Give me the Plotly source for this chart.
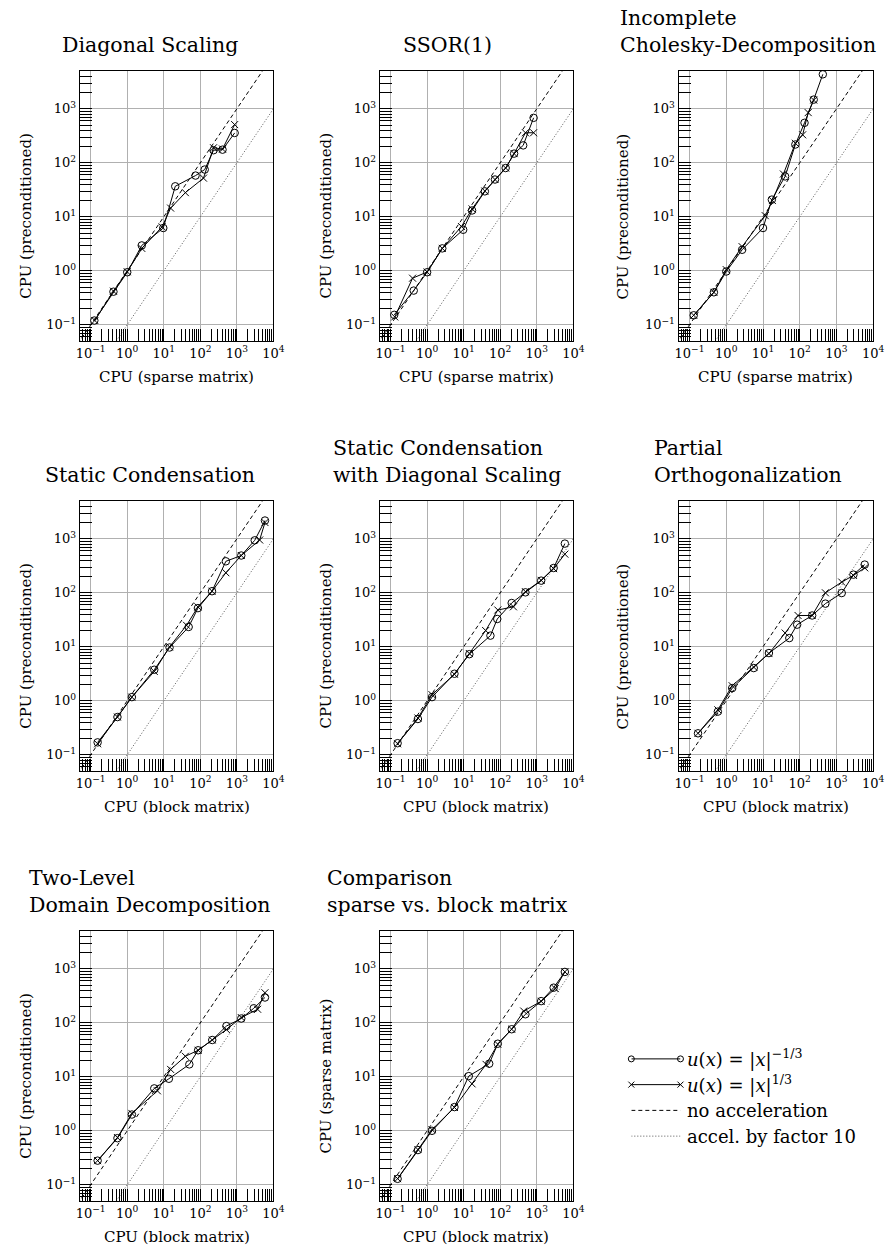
import plotly.graph_objects as go

W, H = 896, 1250
FONT = "DejaVu Serif"

# ---------------- data ----------------
titles = ["Diagonal Scaling", "SSOR(1)", "Incomplete<br>Cholesky-Decomposition",
          "Static Condensation", "Static Condensation<br>with Diagonal Scaling",
          "Partial<br>Orthogonalization", "Two-Level<br>Domain Decomposition",
          "Comparison<br>sparse vs. block matrix"]
xlabels = ["CPU (sparse matrix)"] * 3 + ["CPU (block matrix)"] * 5
ylabels = ["CPU (preconditioned)"] * 7 + ["CPU (sparse matrix)"]

# 1 Diagonal Scaling
ds_c_x = [0.126, 0.42, 1.0, 2.5, 9.7, 20.6, 74, 132, 230, 405, 870]
ds_c_y = [0.12, 0.41, 0.94, 2.95, 6.2, 36.7, 58, 75, 171, 175, 357]
ds_x_x = [0.13, 0.42, 1.0, 2.5, 9.0, 15.4, 39, 122, 230, 405, 870]
ds_x_y = [0.12, 0.42, 0.96, 2.6, 6.5, 14.5, 28, 52, 190, 180, 510]
# 2 SSOR(1)
ss_c_x = [0.126, 0.43, 1.0, 2.6, 9.7, 17, 38, 72, 141, 240, 425, 820]
ss_c_y = [0.153, 0.43, 0.94, 2.6, 5.75, 13.1, 29.6, 49, 80, 148, 210, 680]
ss_x_x = [0.13, 0.40, 1.0, 2.6, 8.7, 17, 38, 72, 141, 240, 490, 820]
ss_x_y = [0.14, 0.73, 0.95, 2.6, 6.6, 14, 30, 49, 80, 148, 360, 360]
# 3 Incomplete Cholesky
ic_c_x = [0.13, 0.46, 1.0, 2.7, 10, 17.4, 40, 76, 135, 240, 425]
ic_c_y = [0.15, 0.40, 0.97, 2.45, 6.2, 20.8, 56, 218, 550, 1480, 4350]
ic_x_x = [0.13, 0.46, 1.0, 2.7, 11.5, 18, 36, 76, 120, 170, 240]
ic_x_y = [0.15, 0.40, 1.05, 2.8, 10.5, 20, 62, 230, 330, 850, 1450]
# 4 Static Condensation
sc_c_x = [0.155, 0.54, 1.34, 5.5, 14.4, 48, 86, 209, 500, 1320, 3080, 5870]
sc_c_y = [0.17, 0.50, 1.17, 3.76, 9.7, 23.3, 52, 107, 383, 490, 937, 2180]
sc_x_x = [0.155, 0.54, 1.34, 5.5, 14.4, 42, 86, 209, 500, 1320, 4200, 5870]
sc_x_y = [0.16, 0.50, 1.17, 3.5, 10, 25, 55, 107, 235, 490, 950, 2000]
# 5 Static Condensation with Diagonal Scaling
sd_c_x = [0.156, 0.56, 1.36, 5.6, 14.3, 54, 83, 206, 490, 1320, 2900, 5870]
sd_c_y = [0.164, 0.46, 1.17, 3.17, 7.3, 16.1, 32.7, 64.7, 102, 168, 288, 815]
sd_x_x = [0.156, 0.56, 1.36, 5.6, 14.3, 40, 86, 230, 490, 1320, 2900, 5870]
sd_x_y = [0.16, 0.48, 1.3, 3.1, 7.5, 20, 48, 55, 105, 170, 280, 520]
# 6 Partial Orthogonalization
po_c_x = [0.17, 0.59, 1.45, 5.6, 14.5, 52, 85, 218, 500, 1390, 2900, 5870]
po_c_y = [0.25, 0.63, 1.72, 4.04, 7.66, 14.5, 25.7, 38, 63, 99, 217, 333]
po_x_x = [0.17, 0.59, 1.45, 5.6, 14.5, 40, 90, 218, 500, 1390, 2900, 5870]
po_x_y = [0.25, 0.68, 1.9, 4.2, 7.5, 18, 38, 38, 100, 158, 210, 290]
# 7 Two-Level Domain Decomposition
dd_c_x = [0.155, 0.54, 1.34, 5.5, 13.8, 50, 87, 212, 517, 1320, 2900, 5870]
dd_c_y = [0.28, 0.73, 2.0, 6.1, 9.2, 17, 31, 48, 87, 120, 186, 294]
dd_x_x = [0.155, 0.54, 1.34, 6.7, 15.4, 39, 87, 212, 517, 1320, 3700, 5870]
dd_x_y = [0.28, 0.75, 2.1, 5.5, 13.7, 24, 31, 48, 75, 125, 178, 360]
# 8 Comparison sparse vs. block
cp_c_x = [0.156, 0.56, 1.36, 5.6, 13.8, 50, 86, 206, 490, 1320, 2900, 5870]
cp_c_y = [0.129, 0.44, 1.0, 2.75, 10.3, 17.5, 41, 76, 144, 252, 447, 875]
cp_x_x = [0.156, 0.56, 1.36, 5.6, 17, 41, 86, 206, 440, 1320, 3200, 5870]
cp_x_y = [0.13, 0.45, 1.05, 2.7, 7.4, 17, 40, 76, 165, 250, 430, 880]

# reference lines: no acceleration (y = x) and acceleration by factor 10
ref_x = [0.01, 100000]
ref_none = [0.01, 100000]
ref_ten = [0.001, 10000]

major_vals = [0.1, 1, 10, 100, 1000, 10000]
major_text = ["10<sup>\u22121</sup>", "10<sup>0</sup>", "10<sup>1</sup>",
              "10<sup>2</sup>", "10<sup>3</sup>", "10<sup>4</sup>"]
minor_vals = [k * 10.0 ** n for n in range(-2, 5) for k in range(2, 10)]

legend_labels = ["<i>u</i>(<i>x</i>) = |<i>x</i>|<sup>\u22121/3</sup>",
                 "<i>u</i>(<i>x</i>) = |<i>x</i>|<sup>1/3</sup>",
                 "no acceleration", "accel. by factor 10"]
legend_rows = [0, 1, 2, 3]
legend_sx = [0, 1]

series = [(ds_c_x, ds_c_y, ds_x_x, ds_x_y), (ss_c_x, ss_c_y, ss_x_x, ss_x_y),
          (ic_c_x, ic_c_y, ic_x_x, ic_x_y), (sc_c_x, sc_c_y, sc_x_x, sc_x_y),
          (sd_c_x, sd_c_y, sd_x_x, sd_x_y), (po_c_x, po_c_y, po_x_x, po_x_y),
          (dd_c_x, dd_c_y, dd_x_x, dd_x_y), (cp_c_x, cp_c_y, cp_x_x, cp_x_y)]

# ---------------- layout geometry (pixels) ----------------
col_px = [(77, 274), (382, 579), (686, 884)]
row_px = [(71, 341), (501, 771), (931, 1201)]
title_cx = [148, 451, 757]
ytitle_x = [22, 327, 630]

DASH = "4px,3px"
DOT = "1px,2px"
DOT_COLOR = "#555555"


def px_x(v):
    return v / W


def px_y(v):
    return 1 - v / H


fig = go.Figure()
annotations = []
layout = dict(width=W, height=H, margin=dict(l=0, r=0, t=0, b=0),
              paper_bgcolor="white", plot_bgcolor="white", showlegend=False,
              font=dict(family=FONT, color="black"))

line_style = dict(color="black", width=1)

for i in range(8):
    r, c = divmod(i, 3)
    n = i + 1
    xs = "x" if n == 1 else f"x{n}"
    ys = "y" if n == 1 else f"y{n}"
    xa = "xaxis" if n == 1 else f"xaxis{n}"
    ya = "yaxis" if n == 1 else f"yaxis{n}"
    cx, cy, xx, xy = series[i]

    fig.add_trace(go.Scatter(x=ref_x, y=ref_none, mode="lines", xaxis=xs, yaxis=ys,
                             line=dict(color="black", width=1, dash=DASH)))
    fig.add_trace(go.Scatter(x=ref_x, y=ref_ten, mode="lines", xaxis=xs, yaxis=ys,
                             line=dict(color=DOT_COLOR, width=1, dash=DOT)))
    fig.add_trace(go.Scatter(x=xx, y=xy, mode="lines+markers", xaxis=xs, yaxis=ys,
                             line=line_style,
                             marker=dict(symbol="x-thin-open", size=7,
                                         line=dict(color="black", width=1))))
    fig.add_trace(go.Scatter(x=cx, y=cy, mode="lines+markers", xaxis=xs, yaxis=ys,
                             line=line_style,
                             marker=dict(symbol="circle-open", size=7.5, color="black",
                                         line=dict(color="black", width=1))))

    common = dict(type="log", showline=True, mirror=True, linecolor="black", linewidth=1,
                  ticks="inside", ticklen=12, tickcolor="black", tickwidth=1,
                  tickmode="array", tickvals=major_vals, ticktext=major_text,
                  showgrid=True, gridcolor="#b0b0b0", gridwidth=1.3, zeroline=False,
                  tickfont=dict(family=FONT, size=13, color="black"),
                  minor=dict(tickmode="array", tickvals=minor_vals, ticks="inside",
                             ticklen=12, tickcolor="black", tickwidth=1, showgrid=False))
    x0, x1 = col_px[c]
    y0, y1 = row_px[r]
    layout[xa] = dict(common, domain=[px_x(x0), px_x(x1)], range=[-1.3, 4], anchor=ys)
    layout[ya] = dict(common, domain=[px_y(y1), px_y(y0)], range=[-1.3, 3.7], anchor=xs)

    # panel title
    annotations.append(dict(text=titles[i], xref="paper", yref="paper",
                            x=px_x(title_cx[c]), y=px_y(y0 - 12), xanchor="center",
                            yanchor="bottom", align="left", showarrow=False,
                            font=dict(family=FONT, size=20.5, color="black")))
    # axis titles
    annotations.append(dict(text=xlabels[i], xref="paper", yref="paper",
                            x=px_x((x0 + x1) / 2), y=px_y(y1 + 36), xanchor="center",
                            yanchor="middle", showarrow=False,
                            font=dict(family=FONT, size=15, color="black")))
    annotations.append(dict(text=ylabels[i], xref="paper", yref="paper",
                            x=px_x(ytitle_x[c]), y=px_y((y0 + y1) / 2 + 10), xanchor="center",
                            yanchor="middle", textangle=-90, showarrow=False,
                            font=dict(family=FONT, size=15, color="black")))

# ---------------- legend (drawn in its own small axes) ----------------
fig.add_trace(go.Scatter(x=legend_sx, y=[legend_rows[0]] * 2, mode="lines+markers",
                         xaxis="x9", yaxis="y9", cliponaxis=False, line=line_style,
                         marker=dict(symbol="circle-open", size=6, color="black",
                                     line=dict(color="black", width=1))))
fig.add_trace(go.Scatter(x=legend_sx, y=[legend_rows[1]] * 2, mode="lines+markers",
                         xaxis="x9", yaxis="y9", cliponaxis=False, line=line_style,
                         marker=dict(symbol="x-thin-open", size=6,
                                     line=dict(color="black", width=1))))
fig.add_trace(go.Scatter(x=legend_sx, y=[legend_rows[2]] * 2, mode="lines",
                         xaxis="x9", yaxis="y9", cliponaxis=False,
                         line=dict(color="black", width=1, dash=DASH)))
fig.add_trace(go.Scatter(x=legend_sx, y=[legend_rows[3]] * 2, mode="lines",
                         xaxis="x9", yaxis="y9", cliponaxis=False,
                         line=dict(color=DOT_COLOR, width=1, dash=DOT)))
layout["xaxis9"] = dict(domain=[px_x(638), px_x(688)], range=[0, 1], visible=False,
                        anchor="y9")
layout["yaxis9"] = dict(domain=[px_y(1149), px_y(1046)], range=[3.5, -0.5], visible=False,
                        anchor="x9")
for lab, row in zip(legend_labels, legend_rows):
    annotations.append(dict(text=lab, xref="paper", yref="y9", x=px_x(693), y=row,
                            xanchor="left", yanchor="middle", showarrow=False,
                            font=dict(family=FONT, size=18, color="black")))

layout["annotations"] = annotations
fig.update_layout(**layout)
fig.write_html("out.html")
